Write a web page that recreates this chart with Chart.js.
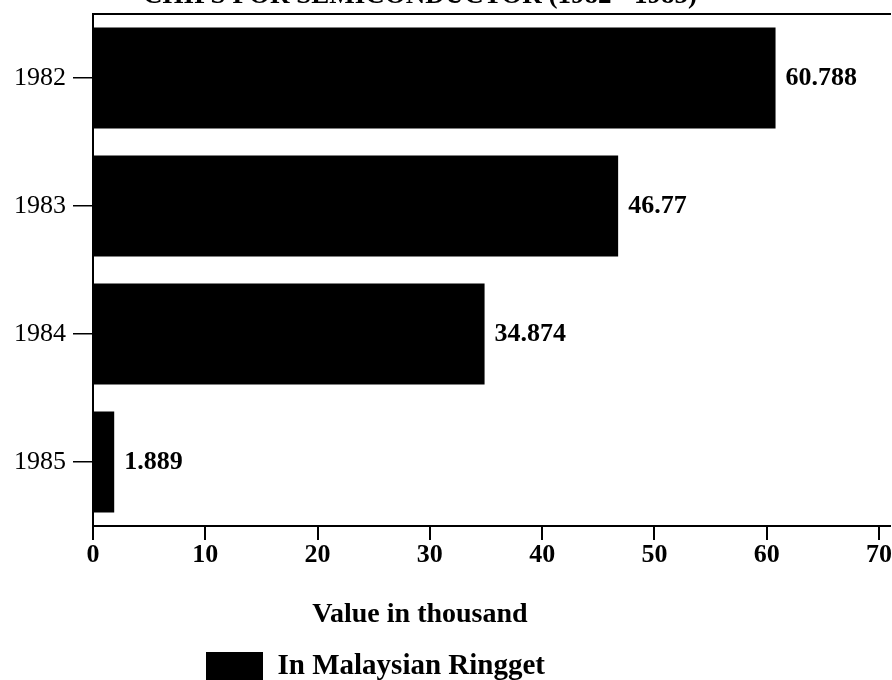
<!DOCTYPE html>
<html>
<head>
<meta charset="utf-8">
<script src="https://cdn.jsdelivr.net/npm/chart.js@4"></script>
<style>
  html, body { margin: 0; padding: 0; background: #ffffff; }
  #wrap { width: 892px; height: 680px; position: relative; }
</style>
</head>
<body>
<div id="wrap"><canvas id="c" width="892" height="680"></canvas></div>
<script>
// ---- data ----
const years = ['1982', '1983', '1984', '1985'];
const values = [60.788, 46.77, 34.874, 1.889];
const valueLabels = ['60.788', '46.77', '34.874', '1.889'];
const xTickValues = [0, 10, 20, 30, 40, 50, 60, 70];
const seriesName = 'In Malaysian Ringget';
const axisTitle = 'Value in thousand';
const topTitle = 'CHIPS FOR SEMICONDUCTOR (1982 - 1985)';

const SERIF = '"Liberation Serif", "Times New Roman", serif';

const decor = {
  id: 'decor',
  afterLayout(chart) {
    const lg = chart.legend;
    if (lg) {
      lg.left = 196; lg.right = 892;
      lg.top = 642; lg.bottom = 690;
      lg.width = lg.right - lg.left; lg.height = lg.bottom - lg.top;
    }
  },
  afterDatasetsDraw(chart) {
    const ctx = chart.ctx;
    const meta = chart.getDatasetMeta(0);
    ctx.save();
    ctx.fillStyle = '#000';
    ctx.font = 'bold 26px ' + SERIF;
    ctx.textAlign = 'left';
    ctx.textBaseline = 'middle';
    meta.data.forEach((el, i) => {
      ctx.fillText(valueLabels[i], el.x + 10, el.y);
    });
    ctx.restore();
  },
  afterDraw(chart) {
    const ctx = chart.ctx;
    ctx.save();
    ctx.fillStyle = '#000';
    ctx.textAlign = 'center';
    ctx.font = 'bold 28px ' + SERIF;
    ctx.textBaseline = 'middle';
    ctx.fillText(axisTitle, 420, 615);
    ctx.font = 'bold 27px ' + SERIF;
    ctx.textBaseline = 'alphabetic';
    ctx.fillText(topTitle, 420, 3);
    ctx.restore();
  }
};

new Chart(document.getElementById('c'), {
  type: 'bar',
  data: {
    labels: years,
    datasets: [{
      label: seriesName,
      data: values,
      backgroundColor: '#000000',
      borderWidth: 0,
      barPercentage: 0.79,
      categoryPercentage: 1.0,
      xAxisID: 'x',
      yAxisID: 'y'
    }]
  },
  options: {
    indexAxis: 'y',
    responsive: false,
    animation: false,
    devicePixelRatio: 1,
    layout: { padding: { top: 14, left: 0, right: 0, bottom: 0 } },
    plugins: {
      tooltip: { enabled: false },
      title: { display: false },
      legend: {
        display: true,
        position: 'chartArea',
        align: 'start',
        labels: {
          boxWidth: 57,
          boxHeight: 30,
          padding: 10,
          color: '#000',
          font: { family: SERIF, size: 29, weight: 'bold' }
        }
      }
    },
    scales: {
      x: {
        type: 'linear',
        position: 'bottom',
        min: 0,
        max: 71,
        afterBuildTicks(scale) {
          scale.ticks = xTickValues.map(v => ({ value: v }));
        },
        afterFit(scale) { scale.height = 154; },
        ticks: {
          color: '#000',
          padding: 0,
          maxRotation: 0,
          autoSkip: false,
          includeBounds: false,
          font: { family: SERIF, size: 26, weight: 'bold' }
        },
        grid: {
          display: true,
          drawOnChartArea: false,
          drawTicks: true,
          tickLength: 14,
          color: '#000',
          lineWidth: 2
        },
        border: { display: true, color: '#000', width: 2 }
      },
      x2: {
        type: 'linear',
        position: 'top',
        display: true,
        min: 0,
        max: 71,
        ticks: { display: false },
        grid: { display: false, drawTicks: false },
        border: { display: true, color: '#000', width: 2 }
      },
      y: {
        type: 'category',
        position: 'left',
        afterFit(scale) {
          scale.width = 93;
          scale.paddingTop = 0;
          scale.paddingBottom = 0;
        },
        ticks: {
          color: '#000',
          padding: 7,
          font: { family: SERIF, size: 26, weight: 'normal' }
        },
        grid: {
          display: true,
          offset: false,
          drawOnChartArea: false,
          drawTicks: true,
          tickLength: 20,
          color: '#000',
          lineWidth: 1.5
        },
        border: { display: true, color: '#000', width: 2 }
      }
    }
  },
  plugins: [decor]
});
</script>
</body>
</html>
